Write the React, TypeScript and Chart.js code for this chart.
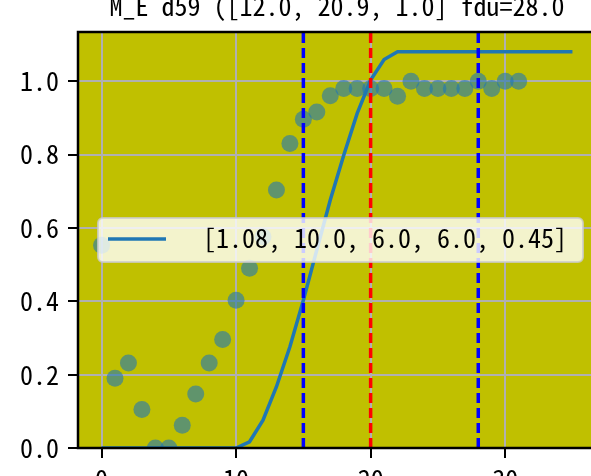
import { useEffect, useRef } from "react";
import { Chart, registerables, Plugin } from "chart.js";

Chart.register(...registerables);

const TITLE = "M_E d59 ([12.0, 20.9, 1.0] fdu=28.0";
const FIT_LABEL = "[1.08, 10.0, 6.0, 6.0, 0.45]";

const OBS_X = [0, 1, 2, 3, 4, 5, 6, 7, 8, 9, 10, 11, 12, 13, 14, 15, 16, 17, 18, 19, 20, 21, 22, 23, 24, 25, 26, 27, 28, 29, 30, 31];
const OBS_Y = [0.553, 0.19, 0.232, 0.105, 0.0, 0.0, 0.062, 0.147, 0.232, 0.296, 0.403, 0.49, 0.576, 0.703, 0.83, 0.896, 0.916, 0.96, 0.98, 0.98, 0.98, 0.98, 0.959, 1.0, 0.98, 0.98, 0.98, 0.98, 1.0, 0.98, 1.0, 1.0];

const FIT_X = [0, 1, 2, 3, 4, 5, 6, 7, 8, 9, 10, 11, 12, 13, 14, 15, 16, 17, 18, 19, 20, 21, 22, 23, 24, 25, 26, 27, 28, 29, 30, 31, 32, 33, 34, 35];
const FIT_Y = [0, 0, 0, 0, 0, 0, 0, 0, 0, 0, 0, 0.017, 0.076, 0.167, 0.276, 0.403, 0.54, 0.676, 0.798, 0.912, 1.003, 1.059, 1.08, 1.08, 1.08, 1.08, 1.08, 1.08, 1.08, 1.08, 1.08, 1.08, 1.08, 1.08, 1.08, 1.08];

// vertical markers (axvline)
const VLINE_X = [15, 20, 28];
const VLINE_COLORS = ["#0000ff", "#ff0000", "#0000ff"];

const X_TICKS = [0, 10, 20, 30];
const Y_TICKS = [0, 0.2, 0.4, 0.6, 0.8, 1.0];
const X_MIN = -1.75;
const X_MAX = 36.75;
const Y_MIN = 0;
const Y_MAX = 1.134;

const FONT_FAMILY = '"Noto Sans Mono CJK JP", "DejaVu Sans Mono", monospace';
const FONT_SIZE = 26;

const decorations: Plugin = {
  id: "decorations",
  beforeDraw(chart) {
    const { ctx, chartArea: a } = chart;
    ctx.save();
    ctx.fillStyle = "#ffffff";
    ctx.fillRect(0, 0, chart.width, chart.height);
    ctx.fillStyle = "#c0c000";
    ctx.fillRect(a.left, a.top, a.right - a.left, a.bottom - a.top);
    ctx.restore();
  },
  afterDatasetsDraw(chart) {
    const { ctx, chartArea: a } = chart;
    ctx.save();
    // spines
    ctx.strokeStyle = "#000000";
    ctx.lineWidth = 2.5;
    ctx.strokeRect(a.left, a.top, a.right - a.left, a.bottom - a.top);

    // legend box
    const bx = a.left + 20;
    const by = a.top + 186;
    const bw = 485;
    const bh = 44;
    ctx.beginPath();
    ctx.roundRect(bx, by, bw, bh, 5);
    ctx.fillStyle = "rgba(255,255,255,0.8)";
    ctx.fill();
    ctx.strokeStyle = "rgba(204,204,204,0.8)";
    ctx.lineWidth = 2;
    ctx.stroke();

    ctx.beginPath();
    ctx.moveTo(bx + 10, by + 21);
    ctx.lineTo(bx + 68, by + 21);
    ctx.strokeStyle = "#1f77b4";
    ctx.lineWidth = 3.5;
    ctx.stroke();

    ctx.fillStyle = "#000000";
    ctx.font = `${FONT_SIZE}px ${FONT_FAMILY}`;
    ctx.textAlign = "left";
    ctx.textBaseline = "alphabetic";
    ctx.fillText(String(chart.data.datasets[1].label), bx + 105, by + 30);
    ctx.restore();
  },
  afterDraw(chart) {
    const { ctx, chartArea: a } = chart;
    ctx.save();
    ctx.fillStyle = "#000000";
    ctx.font = `${FONT_SIZE}px ${FONT_FAMILY}`;
    ctx.textAlign = "center";
    ctx.textBaseline = "alphabetic";
    ctx.fillText(TITLE, (a.left + a.right) / 2, 16);
    ctx.restore();
  },
};

export default function App() {
  const canvasRef = useRef<HTMLCanvasElement>(null);
  const chartRef = useRef<Chart | null>(null);

  useEffect(() => {
    if (!canvasRef.current) return;
    if (chartRef.current) chartRef.current.destroy();

    const obs = OBS_X.map((x, i) => ({ x, y: OBS_Y[i] }));
    const fit = FIT_X.map((x, i) => ({ x, y: FIT_Y[i] }));
    const vlines = VLINE_X.map((x, i) => ({
      type: "line" as const,
      data: [{ x, y: Y_MIN }, { x, y: Y_MAX }],
      borderColor: VLINE_COLORS[i],
      borderWidth: 3.5,
      borderDash: [10, 5],
      pointRadius: 0,
      order: 1,
    }));

    const tickFont = { family: FONT_FAMILY, size: FONT_SIZE };

    chartRef.current = new Chart(canvasRef.current, {
      type: "scatter",
      data: {
        datasets: [
          {
            type: "scatter",
            data: obs,
            pointRadius: 8.5,
            backgroundColor: "rgba(31,119,180,0.6)",
            borderWidth: 0,
            order: 3,
          },
          {
            type: "line",
            label: FIT_LABEL,
            data: fit,
            borderColor: "#1f77b4",
            borderWidth: 3.5,
            pointRadius: 0,
            tension: 0,
            order: 2,
          },
          ...vlines,
        ],
      },
      options: {
        responsive: false,
        animation: false,
        events: [],
        layout: { padding: { top: 32, right: 24, left: 0, bottom: 0 } },
        plugins: {
          legend: { display: false },
          tooltip: { enabled: false },
          title: { display: false },
        },
        scales: {
          x: {
            type: "linear",
            min: X_MIN,
            max: X_MAX,
            afterBuildTicks: (s) => {
              s.ticks = X_TICKS.map((value) => ({ value }));
            },
            afterFit: (s) => {
              s.height = 28;
            },
            ticks: {
              font: tickFont,
              color: "#000000",
              padding: 6,
              maxRotation: 0,
              autoSkip: false,
              callback: (v) => String(v),
            },
            grid: {
              color: "#b0b0b0",
              lineWidth: 2,
              tickLength: 10,
              tickColor: "#000000",
              tickWidth: 2,
            },
            border: { display: false },
          },
          y: {
            type: "linear",
            min: Y_MIN,
            max: Y_MAX,
            afterBuildTicks: (s) => {
              s.ticks = Y_TICKS.map((value) => ({ value }));
            },
            afterFit: (s) => {
              s.width = 78;
            },
            ticks: {
              font: tickFont,
              color: "#000000",
              padding: 9,
              autoSkip: false,
              callback: (v) => Number(v).toFixed(1),
            },
            grid: {
              color: "#b0b0b0",
              lineWidth: 2,
              tickLength: 10,
              tickColor: "#000000",
              tickWidth: 2,
            },
            border: { display: false },
          },
        },
      },
      plugins: [decorations],
    });

    return () => {
      if (chartRef.current) {
        chartRef.current.destroy();
        chartRef.current = null;
      }
    };
  }, []);

  return (
    <div style={{ position: "fixed", left: 0, top: 0, width: 591, height: 476, overflow: "hidden", background: "#fff" }}>
      <canvas ref={canvasRef} width={620} height={476} style={{ display: "block" }} />
    </div>
  );
}
